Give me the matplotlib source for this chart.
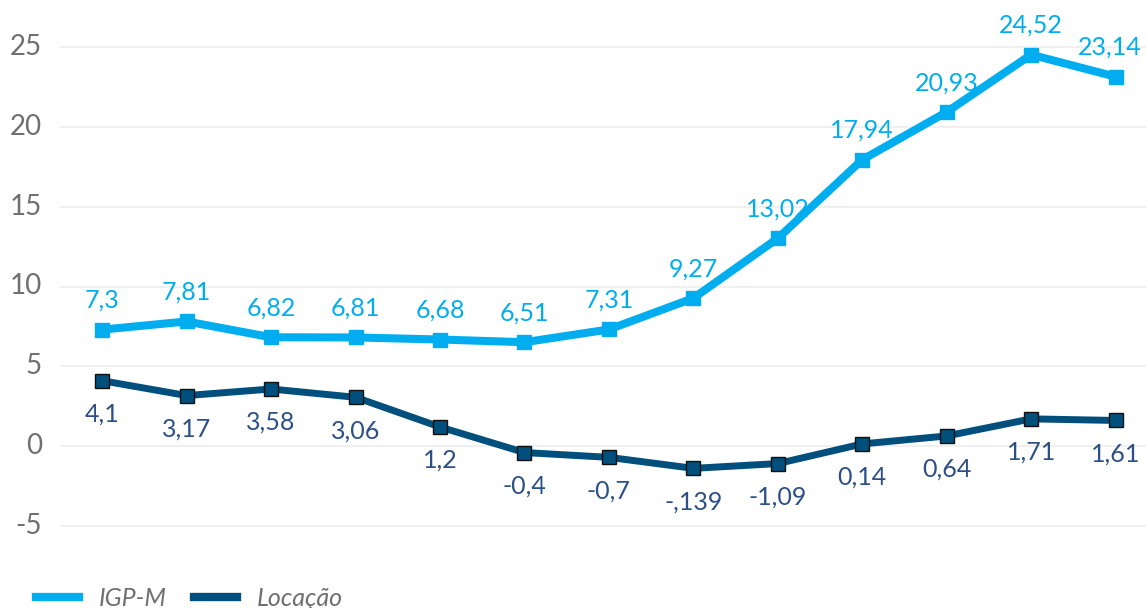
import matplotlib

matplotlib.use("Agg")
import matplotlib.pyplot as plt
import numpy as np

igpm = [7.3, 7.81, 6.82, 6.81, 6.68, 6.51, 7.31, 9.27, 13.02, 17.94, 20.93, 24.52, 23.14]
locacao = [4.1, 3.17, 3.58, 3.06, 1.2, -0.4, -0.7, -1.39, -1.09, 0.14, 0.64, 1.71, 1.61]
igpm_labels = ["7,3", "7,81", "6,82", "6,81", "6,68", "6,51", "7,31", "9,27",
               "13,02", "17,94", "20,93", "24,52", "23,14"]
locacao_labels = ["4,1", "3,17", "3,58", "3,06", "1,2", "-0,4", "-0,7", "-,139",
                  "-1,09", "0,14", "0,64", "1,71", "1,61"]
yticks = [-5, 0, 5, 10, 15, 20, 25]

plt.rcParams["font.family"] = ["Lato", "DejaVu Sans"]

W, H = 1146, 608
fig = plt.figure(figsize=(W / 100, H / 100), dpi=100)
ax = fig.add_axes([60 / W, 0, 1 - 60 / W, 1])

unit = 479 / 30
ax.set_ylim(-5 - (H - 526) / unit, 25 + 47 / unit)
ax.set_xlim(-0.5, 12.36)

x = np.arange(len(igpm))
c1 = "#00aeef"
c2 = "#004f7c"
ax.plot(x, igpm, color=c1, lw=5.8, marker="s", ms=10, mec=c1, mfc=c1,
        label="IGP-M", zorder=3)
ax.plot(x, locacao, color=c2, lw=5.0, marker="s", ms=10, mec="#111111", mew=1.0,
        mfc=c2, label="Locação", zorder=3)

last = len(igpm) - 1
for xi, v, t in zip(x, igpm, igpm_labels):
    dx = -4 if xi == last else 0
    ax.annotate(t, (xi, v), xytext=(dx, 21), textcoords="offset points",
                ha="center", va="center", fontsize=18, color=c1)
for xi, v, t in zip(x, locacao, locacao_labels):
    ax.annotate(t, (xi, v), xytext=(0, -24), textcoords="offset points",
                ha="center", va="center", fontsize=18, color="#2b4f86")

for t in yticks:
    ax.axhline(t, color="#eeeeee", lw=1.2, zorder=1)
    fig.text(42 / W, ax.transData.transform((0, t))[1] / H, str(t),
             ha="right", va="center", fontsize=20, color="#707070")

ax.set_xticks([])
ax.set_yticks([])
for s in ax.spines.values():
    s.set_visible(False)

leg = fig.legend(loc="lower left", bbox_to_anchor=(0.012, -0.04), ncol=2,
                 frameon=False, handlelength=1.7, handletextpad=0.8,
                 columnspacing=1.1,
                 prop={"size": 18, "style": "italic"})
for t in leg.get_texts():
    t.set_color("#707070")
for h in leg.get_lines():
    h.set_marker("")
    h.set_linewidth(6)

fig.savefig("out.png", dpi=100)
